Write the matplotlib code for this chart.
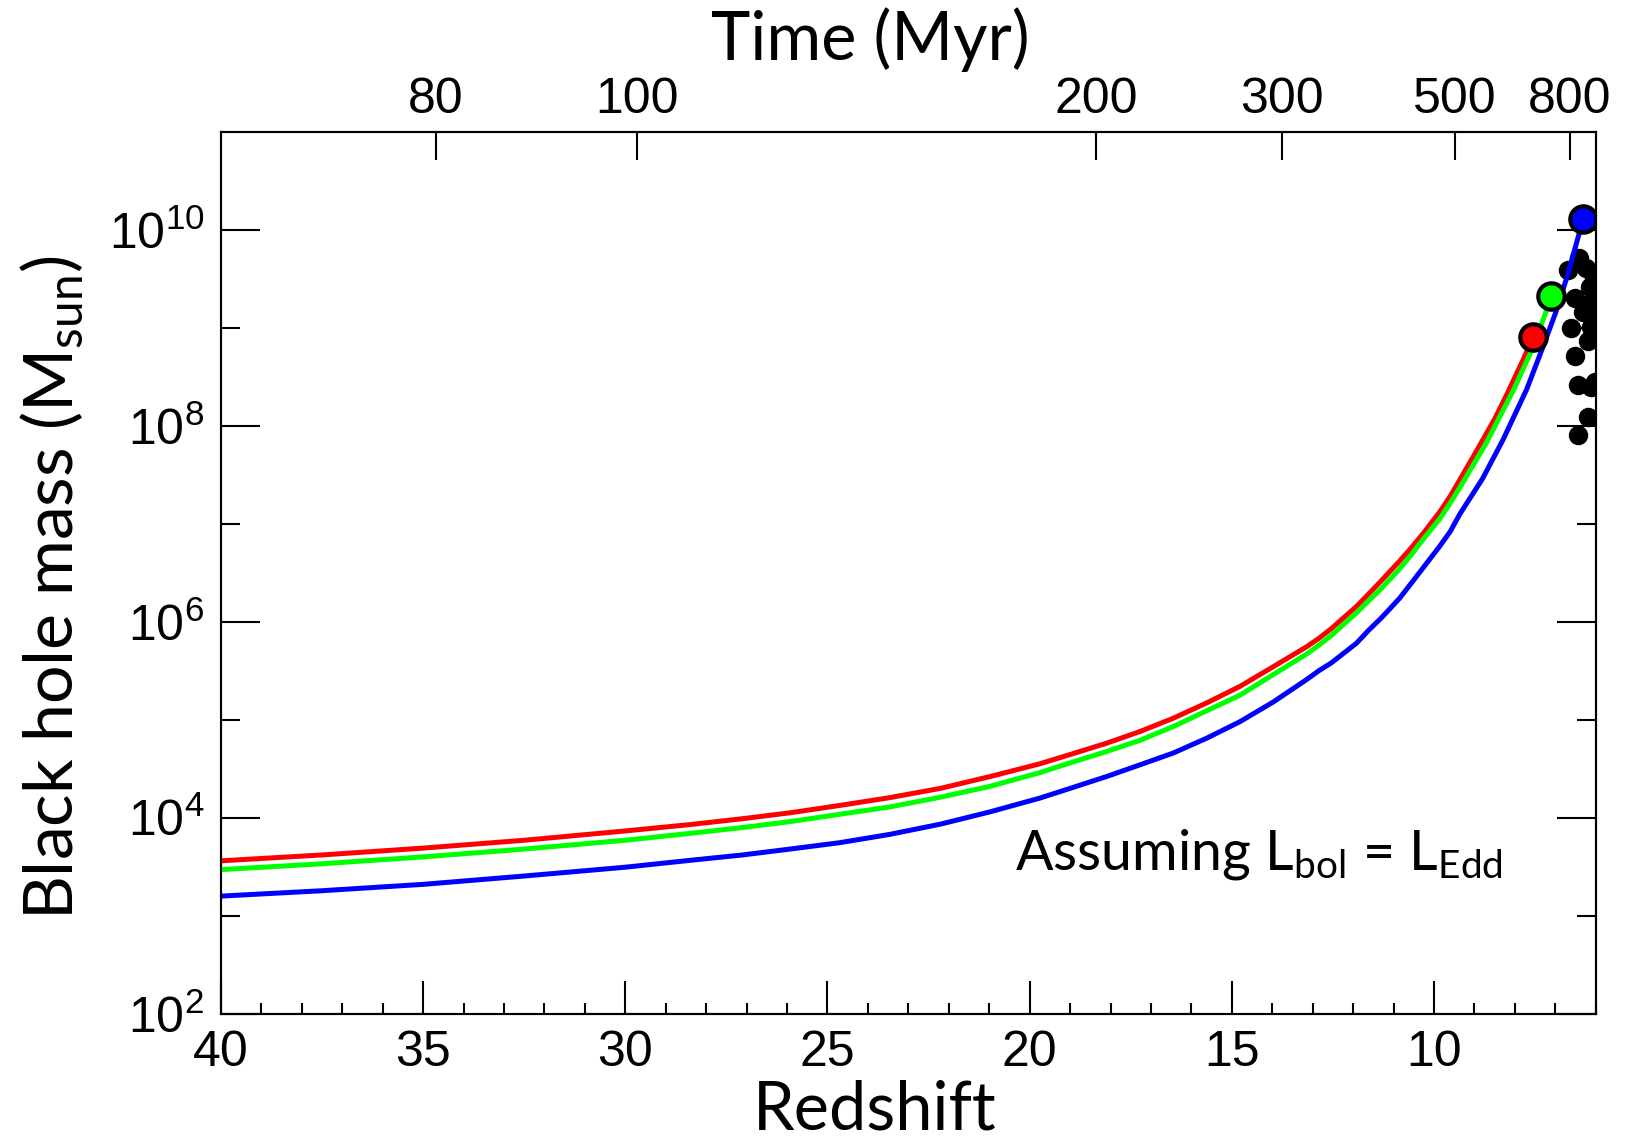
import matplotlib
matplotlib.use("Agg")
import matplotlib.pyplot as plt
import numpy as np
from matplotlib.ticker import FuncFormatter, MultipleLocator, NullFormatter, NullLocator

# growth tracks: redshift and log10(M / Msun)
red_z = [40, 37.5, 35, 32.5, 30, 28.4, 27.1, 25.93, 24.7, 23.46, 22.2, 20.98, 19.75,
         18.92, 18.10, 17.27, 16.45, 15.63, 14.80, 13.98, 13.15, 12.85, 12.54, 11.92,
         11.6, 11.30, 10.85, 10.55, 10.27, 9.86, 9.6, 9.36, 8.87, 8.5, 8.21, 7.80, 7.55]
red_logm = [3.56, 3.62, 3.69, 3.77, 3.865, 3.93, 3.99, 4.05, 4.125, 4.205, 4.30, 4.42,
            4.55, 4.655, 4.76, 4.88, 5.015, 5.17, 5.34, 5.54, 5.745, 5.83, 5.93, 6.155,
            6.29, 6.42, 6.62, 6.76, 6.90, 7.12, 7.28, 7.45, 7.80, 8.07, 8.31, 8.67, 8.91]

green_z = [40, 37.5, 35, 32.5, 30, 28.4, 27.1, 25.93, 24.7, 23.46, 22.2, 20.98, 19.75,
           18.92, 18.10, 17.27, 16.45, 15.63, 14.80, 13.98, 13.15, 12.85, 12.54, 11.92,
           11.6, 11.30, 10.85, 10.55, 10.27, 9.86, 9.6, 9.36, 8.70, 8.04, 7.55, 7.26,
           7.10]
green_logm = [3.47, 3.53, 3.60, 3.68, 3.77, 3.84, 3.90, 3.96, 4.035, 4.11, 4.21, 4.32,
              4.46, 4.57, 4.675, 4.79, 4.93, 5.09, 5.25, 5.46, 5.67, 5.76, 5.86, 6.09,
              6.22, 6.34, 6.54, 6.69, 6.84, 7.05, 7.21, 7.37, 7.83, 8.36, 8.80, 9.13,
              9.32]

blue_z = [40, 37.5, 35, 32.5, 30, 28.4, 27.1, 25.93, 24.7, 23.46, 22.2, 20.98, 19.75,
          18.92, 18.10, 17.27, 16.45, 15.63, 14.80, 13.98, 13.15, 12.85, 12.54, 11.92,
          11.6, 11.30, 10.85, 10.55, 10.27, 9.86, 9.6, 9.36, 8.80, 8.29, 7.71, 7.30,
          6.97, 6.68, 6.48, 6.31]
blue_logm = [3.20, 3.255, 3.32, 3.405, 3.495, 3.565, 3.62, 3.68, 3.745, 3.83, 3.935,
             4.06, 4.20, 4.31, 4.42, 4.54, 4.66, 4.81, 4.98, 5.18, 5.41, 5.50, 5.58,
             5.78, 5.92, 6.04, 6.24, 6.40, 6.55, 6.77, 6.92, 7.10, 7.46, 7.86, 8.37,
             8.81, 9.18, 9.56, 9.86, 10.11]

# observed quasars (black points)
qso_z = [6.41, 6.68, 6.23, 6.15, 6.52, 6.31, 6.11, 6.61, 6.19, 6.11, 6.52, 6.44,
         6.11, 6.19, 6.44, 6.05, 6.05, 6.03]
qso_logm = [9.71, 9.59, 9.61, 9.42, 9.30, 9.16, 9.25, 9.00, 8.86, 9.01, 8.71, 8.42,
            8.40, 8.09, 7.91, 9.50, 9.12, 8.45]

# top axis: cosmic time labels and the redshifts where they sit
time_labels = ["80", "100", "200", "300", "500", "800"]
time_z = [34.68, 29.72, 18.36, 13.75, 9.48, 6.64]

plt.rcParams["font.family"] = ["Liberation Sans", "DejaVu Sans"]

fig = plt.figure(figsize=(16.27, 11.44), dpi=100)
ax = fig.add_axes([0.1358, 0.1139, 0.845, 0.7709])

ax.plot(qso_z, 10 ** np.array(qso_logm), "o", color="black", ms=13, zorder=2)
for z, lm, c in [(red_z, red_logm, "#ff0000"), (green_z, green_logm, "#00ff00"),
                 (blue_z, blue_logm, "#0000ff")]:
    ax.plot(z, 10 ** np.array(lm), color=c, lw=3.6, zorder=3,
            solid_capstyle="butt", solid_joinstyle="round")
    ax.plot(z[-1], 10 ** lm[-1], "o", ms=19, mfc=c, mec="black", mew=3, zorder=5)

ax.set_yscale("log")
ax.set_xlim(40, 6)
ax.set_ylim(1e2, 1e11)

ax.set_xticks([40, 35, 30, 25, 20, 15, 10])
ax.xaxis.set_minor_locator(MultipleLocator(1))
ax.set_yticks([1e2, 1e4, 1e6, 1e8, 1e10])
ax.set_yticks([1e3, 1e5, 1e7, 1e9], minor=True)
ax.yaxis.set_major_formatter(FuncFormatter(
    lambda v, p: r"$\mathregular{10^{%d}}$" % round(np.log10(v))))
ax.yaxis.set_minor_formatter(NullFormatter())

ax.tick_params(which="both", direction="in", width=1.5, right=True, top=False,
               labelsize=36, pad=12)
ax.tick_params(axis="y", which="major", length=28)
ax.tick_params(axis="y", which="minor", length=14)
ax.tick_params(axis="x", which="major", length=24)
ax.tick_params(axis="x", which="minor", length=8)
for s in ax.spines.values():
    s.set_linewidth(1.5)

ax2 = ax.twiny()
ax2.set_xlim(40, 6)
ax2.set_xticks(time_z)
ax2.set_xticklabels(time_labels)
ax2.xaxis.set_minor_locator(NullLocator())
ax2.tick_params(direction="in", length=20, width=1.5, labelsize=36, pad=6)
for s in ax2.spines.values():
    s.set_linewidth(1.5)

fig.text(0.5378, 0.013, "Redshift", fontsize=48, family="Lato",
         ha="center", va="baseline")
fig.text(0.5347, 0.9476, "Time (Myr)", fontsize=48, family="Lato",
         ha="center", va="baseline")
fig.text(0.0446, 0.4865, r"Black hole mass (M$\mathregular{_{sun}}$)", fontsize=49,
         family="Lato", rotation=90, rotation_mode="anchor",
         ha="center", va="baseline")
fig.text(0.6238, 0.2399, r"Assuming L$\mathregular{_{bol}}$ = L$\mathregular{_{Edd}}$",
         fontsize=40, family="Lato", ha="left", va="baseline")

fig.savefig("out.png", dpi=100)
